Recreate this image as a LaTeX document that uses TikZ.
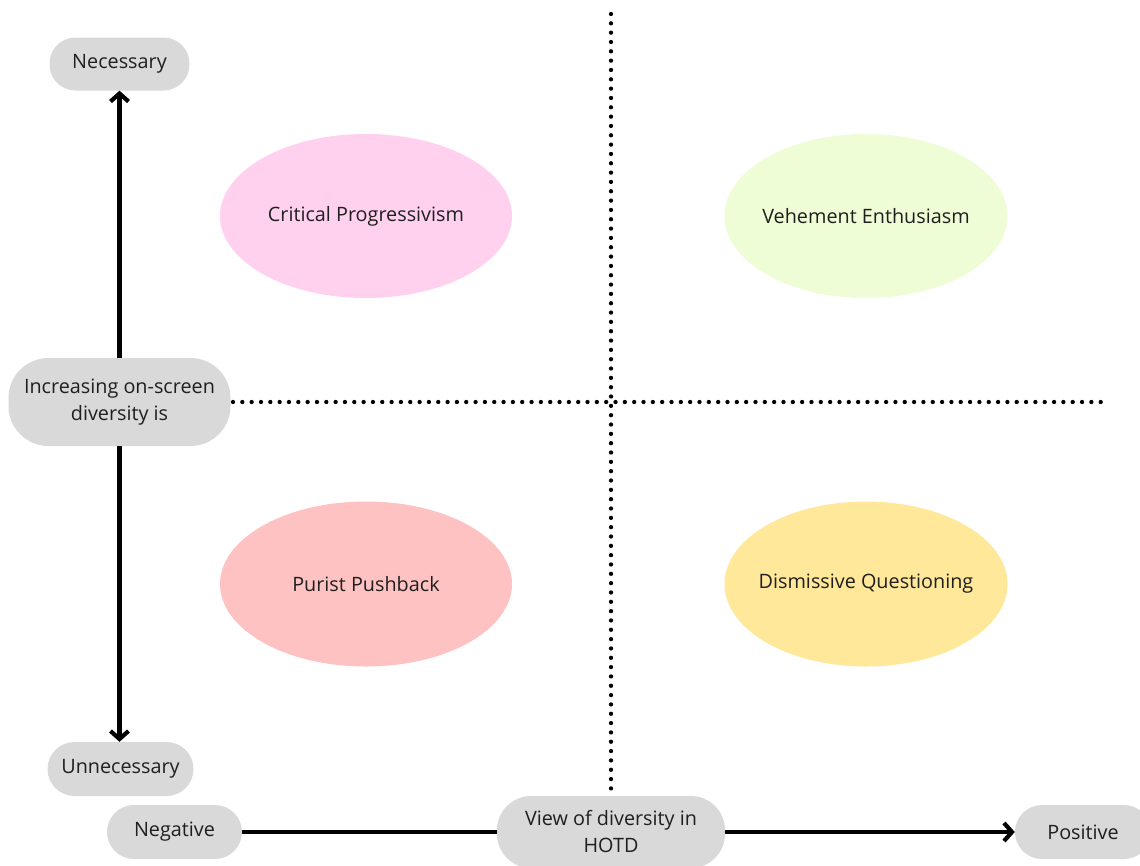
\documentclass[tikz,border=0pt]{standalone}
\usepackage{fontspec}
\setmainfont{Open Sans}
\usetikzlibrary{arrows.meta,shapes.geometric}
\definecolor{boxgray}{HTML}{D9D9D9}
\definecolor{pinkc}{HTML}{FFD1EE}
\definecolor{greenc}{HTML}{EEFDD6}
\definecolor{redc}{HTML}{FFC2C2}
\definecolor{yellowc}{HTML}{FFE89A}
\tikzset{
  pill/.style={fill=boxgray, draw=none, rounded corners=#1, align=center, font=\fontsize{19.8}{27}\selectfont, text=black!88, inner sep=0pt},
  blob/.style={ellipse, fill=#1, draw=none, inner sep=0pt},
  bloblabel/.style={font=\fontsize{19.8}{24}\selectfont, text=black!88, inner sep=0pt},
  axis/.style={line width=4.2pt, -{Straight Barb[length=8pt,width=18pt,line width=4.2pt]}},
  axisline/.style={line width=4.2pt},
  dotline/.style={line width=4.3pt, line cap=round, dash pattern=on 0pt off 9.33pt},
}
\begin{document}
\begin{tikzpicture}[x=1pt,y=-1pt]
\useasboundingbox (0,0) rectangle (1140,865);
\fill[white] (0,0) rectangle (1140,865);
% dotted lines
\coordinate (vtop) at (611,14);
\coordinate (vbot) at (611,789);
\coordinate (hl) at (233,402);
\coordinate (hr) at (1102,402);
\draw[dotline] (vtop) -- (vbot);
\draw[dotline] (hl) -- (hr);
% ellipses
\node[blob=pinkc, minimum width=292pt, minimum height=164pt,
  label={[bloblabel]center:Critical Progressivism}] (cp) at (366,216) {};
\node[blob=greenc, minimum width=283pt, minimum height=164pt,
  label={[bloblabel]center:Vehement Enthusiasm}] (ve) at (866,216) {};
\node[blob=redc, minimum width=292pt, minimum height=165pt,
  label={[bloblabel]center:Purist Pushback}] (pp) at (366,584) {};
\node[blob=yellowc, minimum width=283pt, minimum height=165pt,
  label={[bloblabel]center:Dismissive Questioning}] (dq) at (866,584) {};
% pills
\node[pill=26pt, minimum width=140pt, minimum height=53pt] (nec) at (119.5,64) {Necessary};
\node[pill=40pt, minimum width=222pt, minimum height=88pt] (inc) at (119.5,402) {Increasing on-screen\\diversity is};
\node[pill=27pt, minimum width=146pt, minimum height=54pt] (unn) at (120.5,769) {Unnecessary};
\node[pill=27pt, minimum width=135pt, minimum height=54pt] (neg) at (174.5,832) {Negative};
\node[pill=34pt, minimum width=228pt, minimum height=72pt] (view) at (611,832) {View of diversity in\\HOTD};
\node[pill=27pt, minimum width=136pt, minimum height=54pt] (pos) at (1083,832) {Positive};
% axes
\draw[axis] (inc.north) -- (inc.north |- nec.south);
\draw[axis] (inc.south) -- (inc.south |- unn.north);
\draw[axisline] (neg.east) -- (view.west);
\draw[axis] (view.east) -- (pos.west);
\end{tikzpicture}
\end{document}
